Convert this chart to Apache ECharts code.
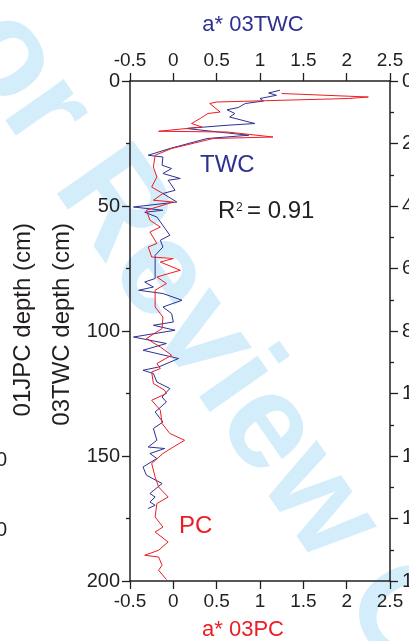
<!DOCTYPE html>
<html>
<head>
<meta charset="utf-8">
<script src="https://cdn.jsdelivr.net/npm/echarts@6/dist/echarts.min.js"></script>
<style>
  html, body { margin: 0; padding: 0; background: #fff; }
  #chart { width: 409px; height: 641px; }
</style>
</head>
<body>
<div id="chart"></div>
<script>
// a* colour profiles down core 03TWC (blue, top axis) and 03PC (red, bottom axis)

const twcDepth = [3.7, 4.8, 5.7, 7.0, 8.0, 9.0, 10.6, 11.5, 13, 14.4, 17, 17.7, 19, 21.7, 23, 27, 29.7, 30.4, 33.7, 35,
  37, 39, 39.7, 43.7, 45, 48.4, 50.4, 51.7, 52.5, 54.4, 61.7, 63.7, 66.4, 69.7, 79, 80.4, 82.4, 83.7, 85, 87.7,
  90.4, 93, 96.4, 97.7, 99.7, 102.4, 105, 107.7, 111, 114.4, 115.7, 117, 120.4, 123, 126.4, 128.4, 132.4, 136.4, 139, 143.7,
  146.4, 147, 149, 151, 154.4, 157.7, 161, 165, 166.4, 168.4, 169.7, 171];
const twcA = [1.23, 1.10, 1.19, 1.00, 1.04, 0.83, 0.75, 0.62, 0.71, 0.65, 0.94, 0.62, 0.15, 0.87, 0.39, -0.04, -0.29, -0.12, -0.13, -0.02,
  -0.12, 0.08, -0.06, 0.02, -0.12, 0.04, -0.46, -0.12, -0.33, -0.19, -0.04, -0.15, -0.12, -0.21, -0.21, -0.33, -0.23, -0.40, -0.12, 0.10,
  -0.12, -0.02, 0.00, -0.23, 0.02, -0.46, -0.08, -0.35, 0.06, -0.17, -0.35, -0.23, -0.19, -0.04, -0.13, -0.08, -0.21, -0.12, -0.23, -0.19,
  -0.29, -0.10, -0.27, -0.19, -0.35, -0.31, -0.13, -0.27, -0.21, -0.27, -0.21, -0.29];

const pcDepth = [5.0, 6.4, 7.0, 8.4, 9.0, 12.4, 13, 15, 17, 18.4, 20.1, 20.4, 22.4, 23.0, 27, 29.7, 34.4, 38.4, 42.4, 45,
  47.7, 48.4, 51.7, 55.7, 58.4, 60.4, 65, 66.4, 70.4, 71, 72.4, 75.7, 78.4, 81, 83.7, 90.4, 94.4, 99, 103, 106.4,
  109.7, 113, 115, 116.4, 121, 123.7, 125, 127.7, 131.7, 137, 141, 143.7, 146.4, 149, 153, 158.4, 162.4, 166.4, 169, 174.4,
  178.4, 180.4, 184.4, 187.7, 189.7, 190.4, 193.7, 195.7, 199.4];
const pcA = [1.25, 2.25, 2.02, 0.50, 0.42, 0.54, 0.40, 0.31, 0.21, 0.33, -0.17, 0.62, 1.15, 0.46, -0.02, -0.21, -0.23, -0.19, -0.25, -0.12,
  -0.23, 0.00, -0.31, -0.27, -0.15, -0.27, -0.19, -0.29, -0.25, 0.00, -0.15, 0.08, -0.19, -0.08, -0.21, -0.21, -0.12, -0.13, -0.31, -0.15,
  -0.02, -0.19, -0.15, -0.25, -0.23, -0.10, -0.08, -0.25, -0.15, -0.13, -0.04, 0.13, 0.00, -0.12, -0.25, -0.21, -0.17, -0.06, -0.19, -0.21,
  -0.12, -0.21, -0.06, -0.17, -0.33, -0.17, -0.13, -0.17, -0.08];

// axis ranges and steps
const aRange = [-0.5, 2.5, 0.5];
const twcDepthRange = [0, 200, 50];
const jpcDepthRange = [0, 16, 2];

const BLUE = '#2e3192';
const RED = '#ed1c24';
const INK = '#231f20';
const FONT = '"Liberation Sans", Arial, Helvetica, sans-serif';

const chart = echarts.init(document.getElementById('chart'), null, { renderer: 'canvas' });

function xAxisCfg(position) {
  return {
    type: 'value', position: position,
    min: aRange[0], max: aRange[1], interval: aRange[2],
    axisLine: { show: true, onZero: false, lineStyle: { color: INK, width: 1.5 } },
    axisTick: { show: true, length: 8, lineStyle: { color: INK, width: 1.3 } },
    axisLabel: { color: INK, fontSize: 19, fontFamily: FONT, margin: 11 },
    splitLine: { show: false }
  };
}

function depthAxisCfg(position, range, margin) {
  return {
    type: 'value', position: position, inverse: true,
    min: range[0], max: range[1], interval: range[2],
    axisLine: { show: true, onZero: false, lineStyle: { color: INK, width: 1.5 } },
    axisTick: { show: true, length: 8, lineStyle: { color: INK, width: 1.3 } },
    minorTick: { show: true, splitNumber: 2, length: 4, lineStyle: { color: INK, width: 1.3 } },
    axisLabel: { color: INK, fontSize: 20, fontFamily: FONT, margin: margin },
    splitLine: { show: false }, minorSplitLine: { show: false }
  };
}

const option = {
  animation: false,
  backgroundColor: '#fff',
  grid: { left: 130, top: 81, right: 19, bottom: 60, containLabel: false, outerBoundsMode: 'none' },
  xAxis: [xAxisCfg('bottom'), xAxisCfg('top')],
  yAxis: [
    depthAxisCfg('left', twcDepthRange, 10),
    depthAxisCfg('right', jpcDepthRange, 12)
  ],
  series: [
    {
      name: 'TWC', type: 'line', xAxisIndex: 1, yAxisIndex: 0,
      symbol: 'none', showSymbol: false, z: 3,
      lineStyle: { color: BLUE, width: 1 },
      data: twcA.map((a, i) => [a, twcDepth[i]])
    },
    {
      name: 'PC', type: 'line', xAxisIndex: 0, yAxisIndex: 0,
      symbol: 'none', showSymbol: false, z: 4,
      lineStyle: { color: RED, width: 1 },
      data: pcA.map((a, i) => [a, pcDepth[i]])
    }
  ],
  graphic: {
    elements: [
      {
        // diagonal review stamp behind the plot
        type: 'text', x: -64, y: -44, rotation: -0.96, z: -10, silent: true,
        style: { text: 'For Review Only', font: 'bold 135px ' + FONT, fill: '#d4edfb', align: 'left', verticalAlign: 'middle' }
      },
      {
        type: 'text', x: 253, y: 25,
        style: { text: 'a* 03TWC', font: '22px ' + FONT, fill: BLUE, align: 'center', verticalAlign: 'middle' }
      },
      {
        type: 'text', x: 243, y: 630,
        style: { text: 'a* 03PC', font: '22px ' + FONT, fill: RED, align: 'center', verticalAlign: 'middle' }
      },
      {
        type: 'text', x: 62, y: 223, rotation: Math.PI / 2,
        style: { text: '03TWC depth (cm)', font: '24px ' + FONT, fill: INK, align: 'right', verticalAlign: 'middle' }
      },
      {
        type: 'text', x: 23, y: 223, rotation: Math.PI / 2,
        style: { text: '01JPC depth (cm)', font: '24px ' + FONT, fill: INK, align: 'right', verticalAlign: 'middle' }
      },
      {
        type: 'text', x: 7, y: 460,
        style: { text: '0', font: '20px ' + FONT, fill: INK, align: 'right', verticalAlign: 'middle' }
      },
      {
        type: 'text', x: 7, y: 530,
        style: { text: '0', font: '20px ' + FONT, fill: INK, align: 'right', verticalAlign: 'middle' }
      },
      {
        type: 'text', x: 200, y: 177,
        style: { text: 'TWC', font: '24px ' + FONT, fill: BLUE, align: 'left', verticalAlign: 'bottom' }
      },
      {
        type: 'text', x: 179, y: 538,
        style: { text: 'PC', font: '24px ' + FONT, fill: RED, align: 'left', verticalAlign: 'bottom' }
      },
      {
        type: 'text', x: 218, y: 223,
        style: { text: 'R', font: '24px ' + FONT, fill: INK, align: 'left', verticalAlign: 'bottom' }
      },
      {
        type: 'text', x: 236, y: 214,
        style: { text: '2', font: '12px ' + FONT, fill: INK, align: 'left', verticalAlign: 'bottom' }
      },
      {
        type: 'text', x: 247, y: 223,
        style: { text: '= 0.91', font: '24px ' + FONT, fill: INK, align: 'left', verticalAlign: 'bottom' }
      }
    ]
  }
};

chart.setOption(option);
</script>
</body>
</html>
